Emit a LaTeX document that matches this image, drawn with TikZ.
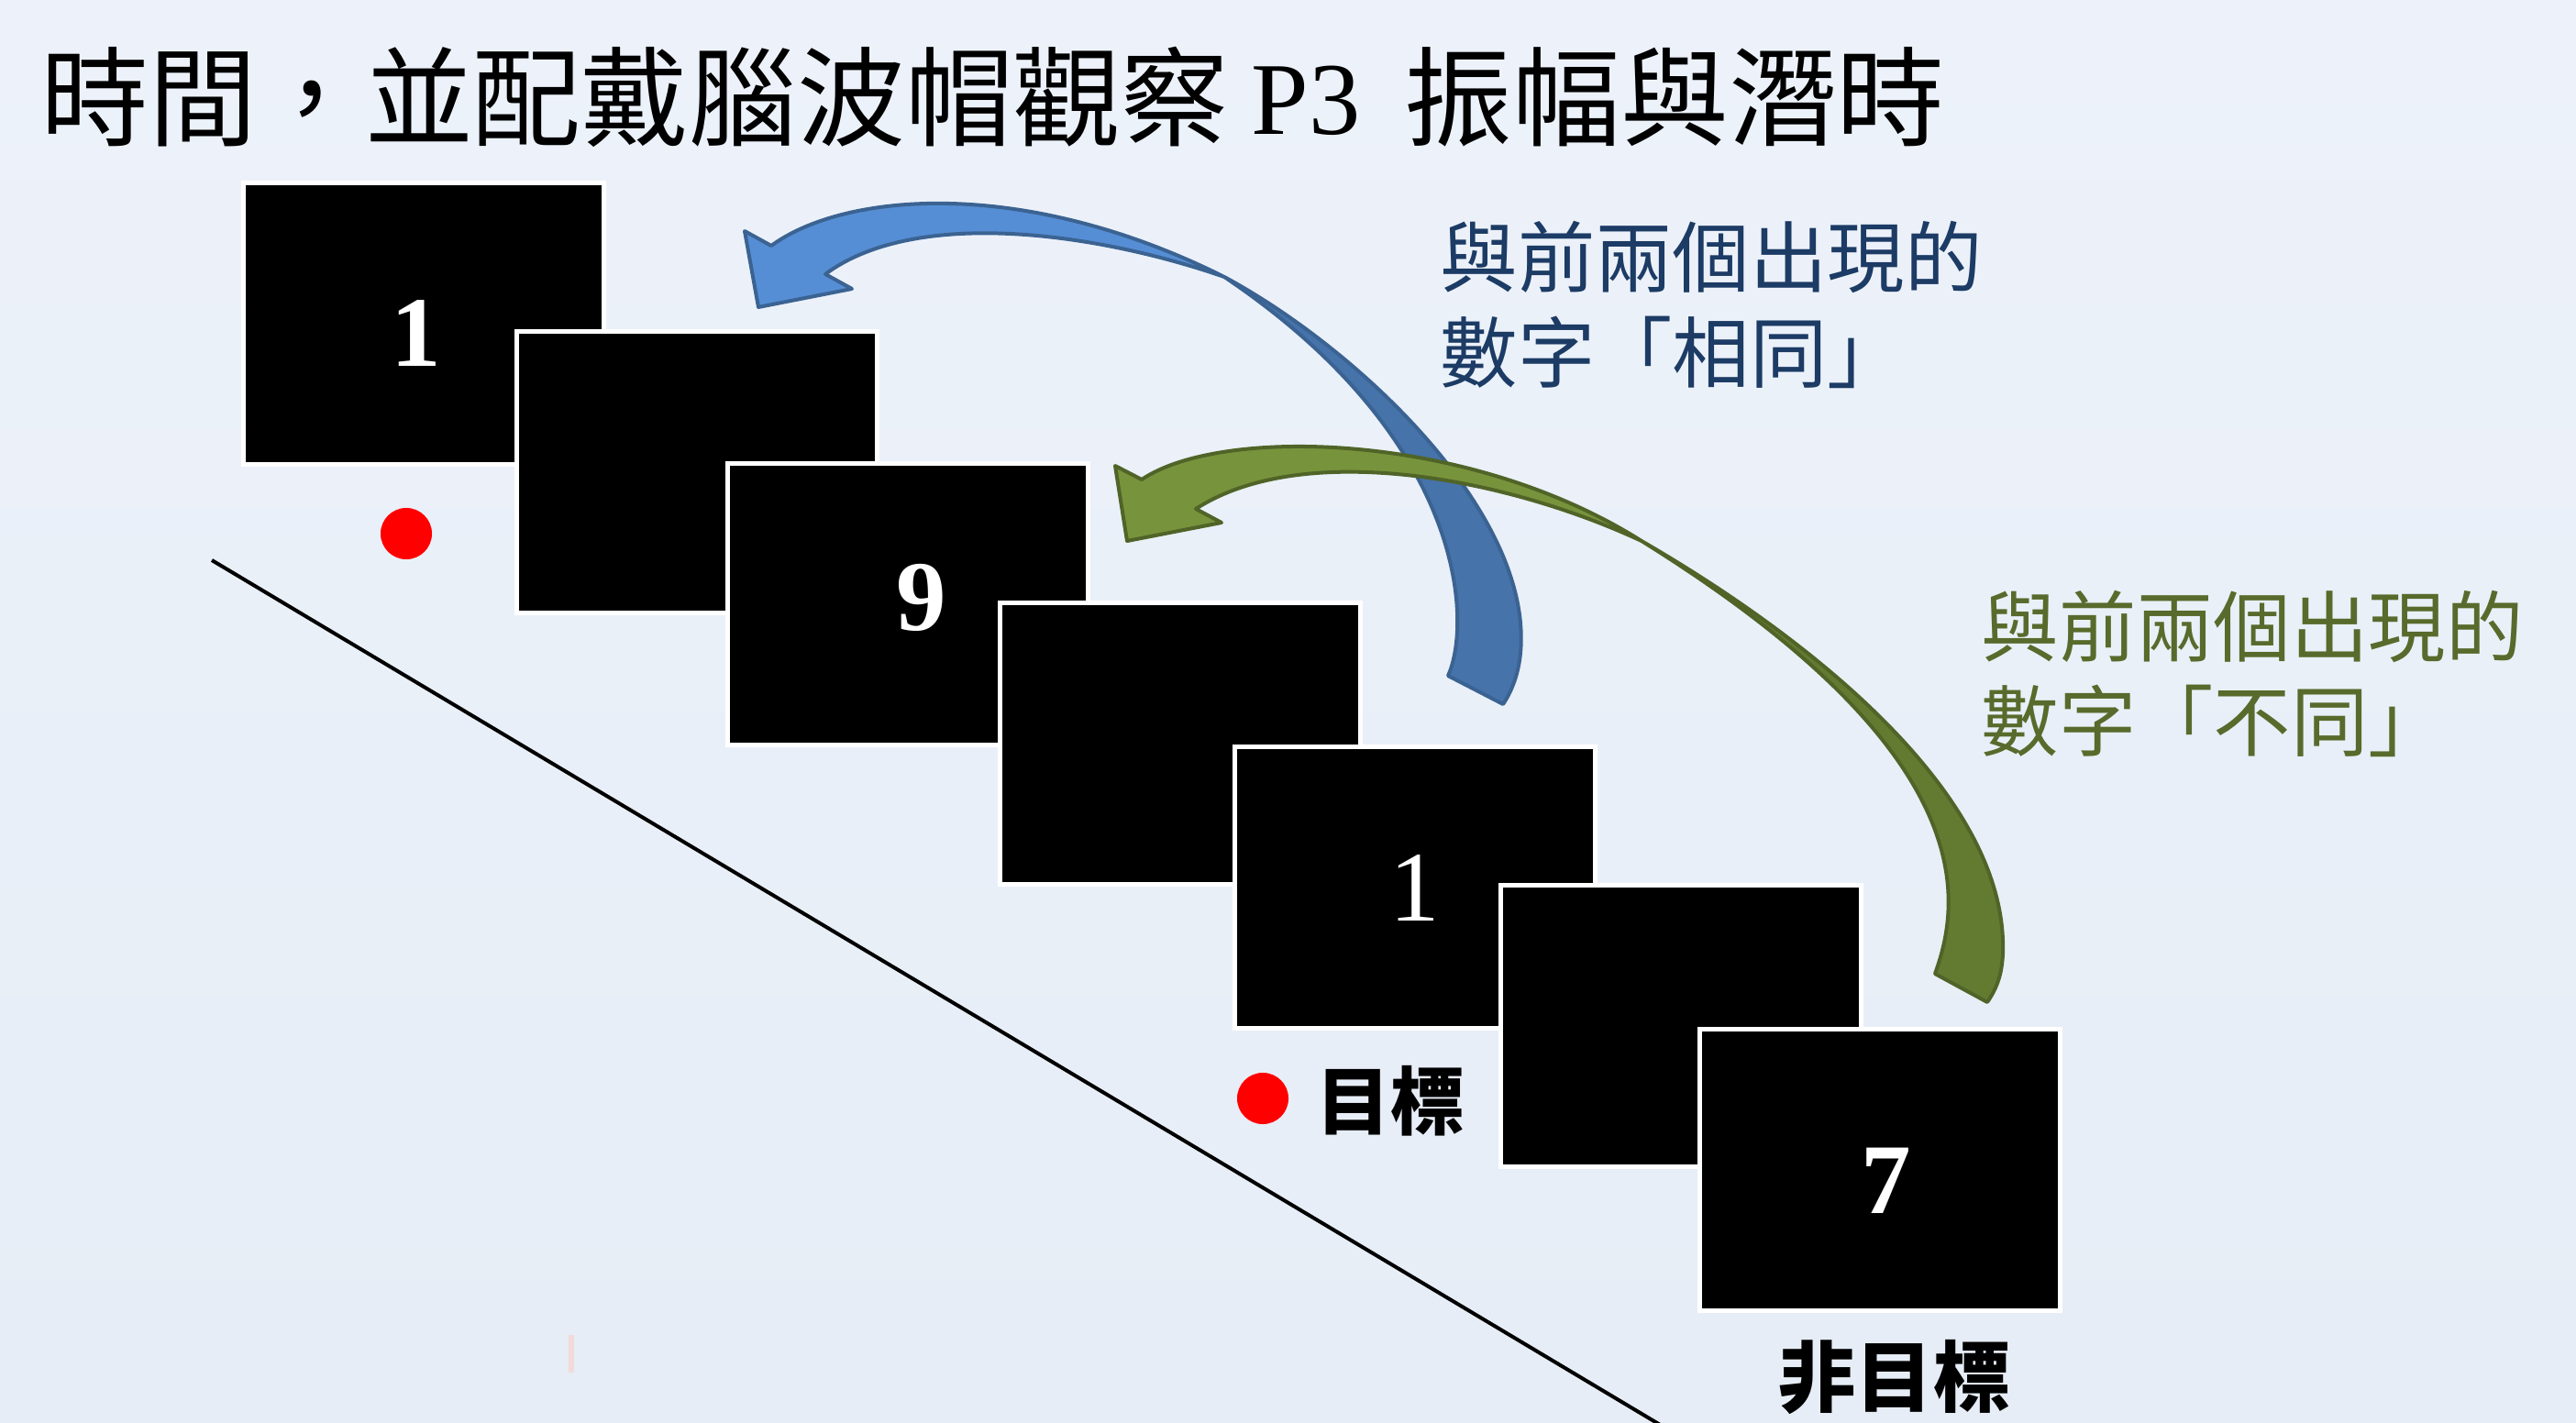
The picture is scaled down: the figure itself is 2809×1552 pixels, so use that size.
\documentclass[tikz,border=0pt]{standalone}
\usepackage{fontspec}
\setmainfont{Liberation Serif}
\newfontfamily\cjk{Noto Sans CJK TC}
\definecolor{bgA}{HTML}{EDF2FA}
\definecolor{bgB}{HTML}{E6EDF6}
\definecolor{bluetxt}{HTML}{1C3B65}
\definecolor{greentxt}{HTML}{586B2C}
\definecolor{bfrontc}{HTML}{558ED5}
\definecolor{bbackc}{HTML}{4673AA}
\definecolor{bline}{HTML}{3B6392}
\definecolor{gfrontc}{HTML}{77933C}
\definecolor{gbackc}{HTML}{637B31}
\definecolor{gline}{HTML}{506428}
\definecolor{pinkm}{HTML}{F2DADA}
\tikzset{
  scr/.style={fill=black,draw=white,line width=0.05cm,minimum width=3.93cm,minimum height=3.07cm,inner sep=0pt},
  digit/.style={text=white,inner sep=0pt,font=\fontsize{31pt}{31pt}\selectfont},
  reddot/.style={circle,fill=red,draw=none,minimum size=0.56cm,inner sep=0pt},
  ttl/.style={anchor=west,inner sep=0pt,font=\cjk\fontsize{33.5pt}{40pt}\selectfont},
  note/.style={anchor=west,inner sep=0pt,font=\cjk\fontsize{24pt}{29pt}\selectfont},
  tag/.style={inner sep=0pt,font=\cjk\bfseries\fontsize{23pt}{28pt}\selectfont},
  bfront/.style={fill=bfrontc,draw=bline,line width=0.04cm,line join=round},
  bback/.style={fill=bbackc,draw=bline,line width=0.04cm,line join=round},
  gfront/.style={fill=gfrontc,draw=gline,line width=0.04cm,line join=round},
  gback/.style={fill=gbackc,draw=gline,line width=0.04cm,line join=round},
}
\begin{document}
\begin{tikzpicture}[x=0.01cm,y=-0.01cm]
\useasboundingbox (0,0) rectangle (2809,1552);
\shade[top color=bgA,bottom color=bgB] (0,0) rectangle (2809,1552);

% title
\node[ttl] (t1) at (44,106) {時間，並配戴腦波帽觀察};
\node[inner sep=0pt,font=\fontsize{32pt}{38pt}\selectfont] (t2) at (1424,110) {P3};
\node[ttl] (t3) at (1531,106) {振幅與潛時};

% time line
\coordinate (ls) at (231,611);
\coordinate (le) at (1812,1555);
\draw[line width=0.04cm] (ls) -- (le);

% faint mark
\fill[pinkm] (620,1456) rectangle (626,1497);

% screens
\node[scr] (b1) at (462,353) {};
\node[scr] (b2) at (760,515) {};
\node[scr] (b3) at (990,659) {};
\node[scr] (b4) at (1287,811) {};
\node[scr] (b5) at (1543,968) {};
\node[scr] (b6) at (1833,1119) {};
\node[scr] (b7) at (2050,1276) {};

\node[digit] (n1) at (454,364) {\bfseries 1};
\node[digit] (n3) at (1005,652) {\bfseries 9};
\node[digit] (n5) at (1543,969) {1};
\node[digit] (n7) at (2057,1288) {\bfseries 7};

% red dots and labels
\node[reddot] (d1) at (443,582) {};
\node[reddot] (d2) at (1377,1198) {};
\node[tag] (m1) at (1516,1201) {目標};
\node[tag,font=\cjk\bfseries\fontsize{24pt}{29pt}\selectfont] (m2) at (2066,1502) {非目標};

% notes
\node[note,text=bluetxt] (q1) at (1570,280) {與前兩個出現的};
\node[note,text=bluetxt] (q2) at (1570,384) {數字「相同」};
\node[note,text=greentxt] (g1) at (2160,683) {與前兩個出現的};
\node[note,text=greentxt] (g2) at (2160,786) {數字「不同」};

% blue curved arrow
\coordinate (bP) at (1335,302);
\filldraw[bfront] (827,335) -- (812,252) -- (841,268)
  .. controls (920,210) and (1115,192) .. (bP)
  .. controls (1200,255) and (1000,225) .. (900,299)
  -- (929,315) -- cycle;
\filldraw[bback] (bP) .. controls (1480,380) and (1672,560) .. (1658,712)
  .. controls (1656,735) and (1648,755) .. (1639,768)
  -- (1579,737)
  .. controls (1605,680) and (1600,480) .. (bP) -- cycle;

% green curved arrow
\coordinate (gP) at (1790,590);
\filldraw[gfront] (1229,590) -- (1216,508) -- (1245,523)
  .. controls (1330,465) and (1600,470) .. (gP)
  .. controls (1640,520) and (1420,480) .. (1304,555)
  -- (1332,570) -- cycle;
\filldraw[gback] (gP) .. controls (1980,700) and (2190,870) .. (2184,1040)
  .. controls (2183,1065) and (2176,1080) .. (2167,1093)
  -- (2110,1062)
  .. controls (2140,980) and (2160,820) .. (gP) -- cycle;
\end{tikzpicture}
\end{document}
